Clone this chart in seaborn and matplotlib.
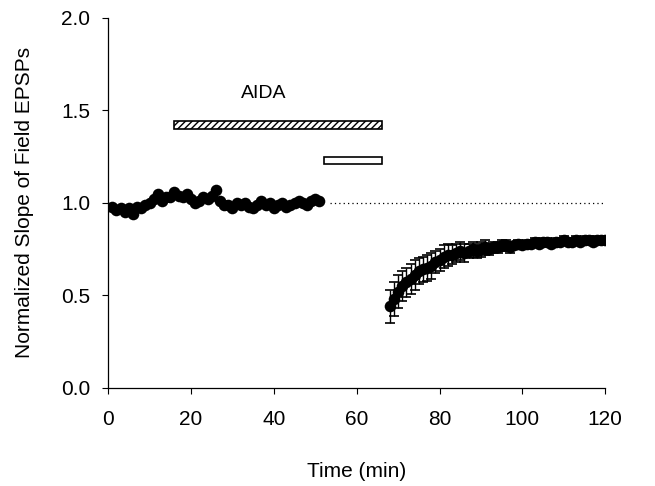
import numpy as np
import pandas as pd
import matplotlib
matplotlib.use("Agg")
import matplotlib.pyplot as plt
import seaborn as sns

# baseline (before / during AIDA)
base_time = list(range(1, 52))
base_slope = [0.98, 0.96, 0.97, 0.95, 0.97, 0.94, 0.98, 0.97, 0.99, 1.00,
              1.02, 1.05, 1.01, 1.03, 1.03, 1.06, 1.04, 1.03, 1.05, 1.02,
              1.00, 1.01, 1.03, 1.02, 1.04, 1.07, 1.01, 0.99, 0.99, 0.97,
              1.00, 0.99, 1.00, 0.98, 0.97, 0.99, 1.01, 0.99, 1.00, 0.97,
              0.99, 1.00, 0.98, 0.99, 1.00, 1.01, 1.00, 0.99, 1.01, 1.02, 1.01]

# recovery after washout
rec_time = list(range(68, 121))
rec_slope = [0.44, 0.48, 0.52, 0.55, 0.57, 0.59, 0.61, 0.63, 0.64, 0.65,
             0.66, 0.68, 0.69, 0.71, 0.72, 0.72, 0.73, 0.74, 0.73, 0.74,
             0.75, 0.74, 0.75, 0.76, 0.75, 0.76, 0.76, 0.77, 0.77, 0.76,
             0.77, 0.78, 0.77, 0.78, 0.78, 0.79, 0.78, 0.79, 0.79, 0.78,
             0.79, 0.79, 0.80, 0.79, 0.79, 0.80, 0.79, 0.80, 0.80, 0.79,
             0.80, 0.80, 0.80]
rec_err = [0.09, 0.09, 0.09, 0.08, 0.08, 0.08, 0.08, 0.07, 0.07, 0.07,
           0.07, 0.06, 0.06, 0.06, 0.06, 0.05, 0.05, 0.05, 0.05, 0.04,
           0.04, 0.04, 0.04, 0.04, 0.03, 0.03, 0.03, 0.03, 0.03, 0.03,
           0.02, 0.02, 0.02, 0.02, 0.02, 0.02, 0.02, 0.02, 0.02, 0.02,
           0.02, 0.02, 0.02, 0.02, 0.02, 0.02, 0.02, 0.02, 0.02, 0.02,
           0.02, 0.02, 0.02]

# drug application bars: (start, end, y)
aida_bar = (16, 66, 1.42)
open_bar = (52, 66, 1.23)

sns.set_style("ticks")
plt.rcParams['font.family'] = ['Liberation Sans', 'DejaVu Sans']
plt.rcParams['text.color'] = 'black'
plt.rcParams['axes.labelcolor'] = 'black'
plt.rcParams['xtick.color'] = 'black'
plt.rcParams['ytick.color'] = 'black'

fig, ax = plt.subplots(figsize=(6.55, 4.86), dpi=100)
fig.subplots_adjust(left=0.165, right=0.924, bottom=0.202, top=0.963)

ax.axhline(1.0, xmin=53.5 / 120, xmax=1, color='black', linestyle=(0, (1, 2.5)), linewidth=0.9)

ax.errorbar(rec_time, rec_slope, yerr=rec_err, fmt='none', ecolor='black',
            elinewidth=1.0, capsize=3.5, capthick=1.2)

base_df = pd.DataFrame({'Time': base_time, 'Slope': base_slope})
rec_df = pd.DataFrame({'Time': rec_time, 'Slope': rec_slope})
sns.scatterplot(data=base_df, x='Time', y='Slope', color='black', s=70,
                edgecolor='black', linewidth=0, ax=ax, zorder=3)
sns.scatterplot(data=rec_df, x='Time', y='Slope', color='black', s=70,
                edgecolor='black', linewidth=0, ax=ax, zorder=3)

ax.barh(aida_bar[2], aida_bar[1] - aida_bar[0], left=aida_bar[0], height=0.045,
        color='white', edgecolor='black', hatch='/////', linewidth=1.2)
ax.barh(open_bar[2], open_bar[1] - open_bar[0], left=open_bar[0], height=0.04,
        color='white', edgecolor='black', linewidth=1.2)
ax.text(37.5, 1.59, 'AIDA', ha='center', va='center', fontsize=14)

ax.set_xlim(0, 120)
ax.set_ylim(0, 2.0)
ax.set_xticks([0, 20, 40, 60, 80, 100, 120])
ax.set_yticks([0.0, 0.5, 1.0, 1.5, 2.0])
ax.set_yticklabels(['0.0', '0.5', '1.0', '1.5', '2.0'])
ax.tick_params(labelsize=15, length=4, width=0.8)
ax.tick_params(axis='x', pad=12)
ax.tick_params(axis='y', pad=9)
ax.set_xlabel('Time (min)', fontsize=15, labelpad=24)
ax.set_ylabel('Normalized Slope of Field EPSPs', fontsize=15, labelpad=19)
for side in ['top', 'right']:
    ax.spines[side].set_visible(False)
for side in ['left', 'bottom']:
    ax.spines[side].set_linewidth(0.9)
    ax.spines[side].set_color('black')

fig.savefig('out.png', dpi=100)
